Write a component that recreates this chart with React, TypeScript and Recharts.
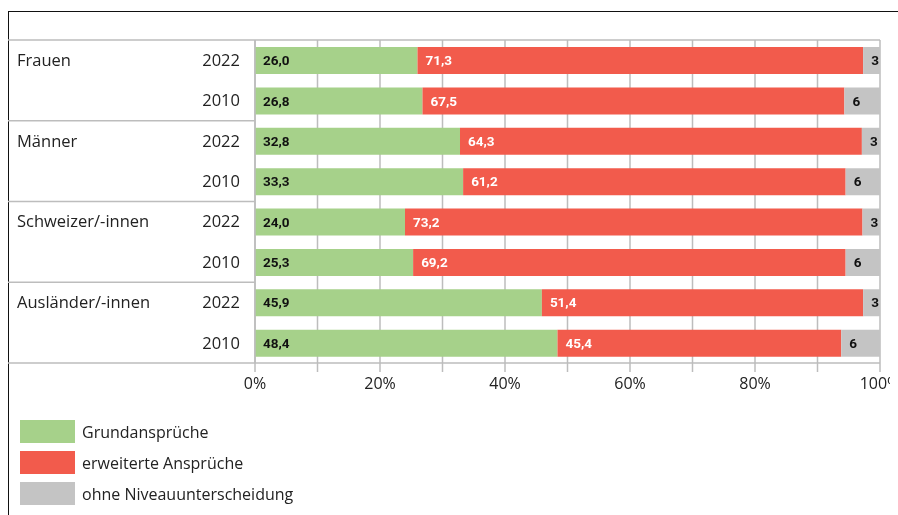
import { BarChart, Bar, XAxis, YAxis, CartesianGrid, LabelList } from "recharts";

// Bildungsniveau der Anforderungen, Anteile in %
const GROUPS = ["Frauen", "Männer", "Schweizer/-innen", "Ausländer/-innen"];
const YEARS = ["2022", "2010"];
const GRUND = [26.0, 26.8, 32.8, 33.3, 24.0, 25.3, 45.9, 48.4];
const ERWEITERT = [71.3, 67.5, 64.3, 61.2, 73.2, 69.2, 51.4, 45.4];
const OHNE = [2.7, 5.7, 2.9, 5.5, 2.8, 5.5, 2.7, 6.2];
const X_TICKS = [0, 10, 20, 30, 40, 50, 60, 70, 80, 90, 100];

const SERIES = [
  { key: "grund", label: "Grundansprüche", color: "#a6d18a", text: "#111", digits: 1 },
  { key: "erweitert", label: "erweiterte Ansprüche", color: "#f25b4c", text: "#fff", digits: 1 },
  { key: "ohne", label: "ohne Niveauunterscheidung", color: "#c4c4c4", text: "#111", digits: 0 },
];

const data = GROUPS.flatMap((g, gi) =>
  YEARS.map((y, yi) => {
    const i = gi * 2 + yi;
    return { key: `${g}|${y}`, group: g, year: y, grund: GRUND[i], erweitert: ERWEITERT[i], ohne: OHNE[i] };
  })
);

const FONT = "'Open Sans', Roboto, sans-serif";
const BOLD_FONT = "Roboto, sans-serif";
const W = 890;
const PLOT_LEFT = 247;
const PLOT_RIGHT = 872;
const PLOT_TOP = 32;
const PLOT_BOTTOM = 355;
const BAND = (PLOT_BOTTOM - PLOT_TOP) / data.length;
const LINE = "#bdbdbd";

function RowTick(props: any) {
  const { y, payload } = props;
  const [group, year] = String(payload.value).split("|");
  return (
    <g>
      {year === "2022" && (
        <>
          <text x={9} y={y} dy="0.35em" fontSize={16.5} fill="#222" fontFamily={FONT}>{group}</text>
          {group === GROUPS[0] && (
            <line x1={0} x2={PLOT_RIGHT} y1={y - BAND / 2} y2={y - BAND / 2} stroke={LINE} strokeWidth={1.5} />
          )}
        </>
      )}
      {year === "2010" && (
        <line x1={0} x2={PLOT_LEFT} y1={y + BAND / 2} y2={y + BAND / 2} stroke={LINE} strokeWidth={1.5} />
      )}
      <text x={232} y={y} dy="0.35em" fontSize={16.5} fill="#222" textAnchor="end" fontFamily={FONT}>{year}</text>
    </g>
  );
}

function makeLabel(color: string, digits: number) {
  return (p: any) => {
    const { x, y, height, value } = p;
    return (
      <text x={Number(x) + 8} y={Number(y) + Number(height) / 2} dy="0.35em" fontSize={13.5} fontWeight={700}
        fill={color} fontFamily={BOLD_FONT}>
        {Number(value).toFixed(digits).replace(".", ",")}
      </text>
    );
  };
}

export default function App() {
  return (
    <div style={{ position: "relative", width: W, height: 499, fontFamily: FONT }}>
      <div style={{ position: "fixed", top: 11, left: 8, width: 900, height: 510, borderTop: "1px solid #111", borderLeft: "1px solid #111" }} />
      <div style={{ position: "absolute", top: 0, left: 0 }}>
        <BarChart width={W} height={400} data={data} layout="vertical" barSize={27}
          margin={{ top: PLOT_TOP, right: W - PLOT_RIGHT, left: 0, bottom: 0 }}>
          <CartesianGrid horizontal={false} stroke={LINE} strokeWidth={1.5} />
          <XAxis type="number" domain={[0, 100]} ticks={X_TICKS} interval={0} height={45}
            axisLine={{ stroke: LINE, strokeWidth: 1.5 }} tickLine={{ stroke: LINE, strokeWidth: 1.5 }} tickSize={9}
            tickMargin={6} tickFormatter={(v) => (v % 20 === 0 ? `${v}%` : "")}
            tick={{ fill: "#222", fontSize: 16, fontFamily: FONT }} />
          <YAxis type="category" dataKey="key" width={PLOT_LEFT} axisLine={{ stroke: LINE, strokeWidth: 1.5 }}
            tickLine={false} tick={<RowTick />} interval={0} />
          {SERIES.map((s) => (
            <Bar key={s.key} dataKey={s.key} stackId="a" fill={s.color} isAnimationActive={false}>
              <LabelList dataKey={s.key} content={makeLabel(s.text, s.digits)} />
            </Bar>
          ))}
        </BarChart>
      </div>
      <div style={{ position: "absolute", top: 412, left: 12 }}>
        {SERIES.map((s) => (
          <div key={s.key} style={{ display: "flex", alignItems: "center", height: 23, marginBottom: 8 }}>
            <div style={{ width: 55, height: 23, background: s.color }} />
            <span style={{ marginLeft: 7, fontSize: 16, color: "#222" }}>{s.label}</span>
          </div>
        ))}
      </div>
    </div>
  );
}
